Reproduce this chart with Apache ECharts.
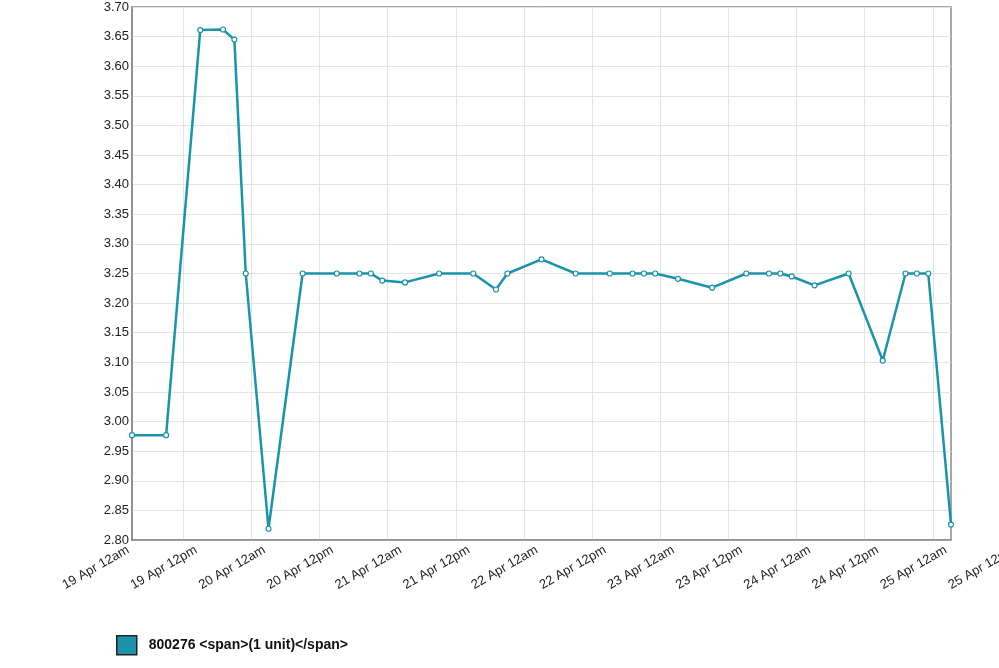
<!DOCTYPE html>
<html>
<head>
    <meta charset="utf-8">
    <title>800276</title>
    <script src="https://cdn.jsdelivr.net/npm/echarts@6/dist/echarts.min.js"></script>
    <style>
        html, body { margin: 0; padding: 0; background: #fff; }
        #chart1 { width: 999px; height: 668px; }
    </style>
</head>
<body>
<div id="chart1"></div>
<script type="text/javascript">
    // readings, UTC
    var times = [
        '2024-04-19T03:00', '2024-04-19T09:00', '2024-04-19T15:00', '2024-04-19T19:00', '2024-04-19T21:00', '2024-04-19T23:00',
        '2024-04-20T03:00', '2024-04-20T09:00', '2024-04-20T15:00', '2024-04-20T19:00', '2024-04-20T21:00', '2024-04-20T23:00',
        '2024-04-21T03:00', '2024-04-21T09:00', '2024-04-21T15:00', '2024-04-21T19:00', '2024-04-21T21:00',
        '2024-04-22T03:00', '2024-04-22T09:00', '2024-04-22T15:00', '2024-04-22T19:00', '2024-04-22T21:00', '2024-04-22T23:00',
        '2024-04-23T03:00', '2024-04-23T09:00', '2024-04-23T15:00', '2024-04-23T19:00', '2024-04-23T21:00', '2024-04-23T23:00',
        '2024-04-24T03:00', '2024-04-24T09:00', '2024-04-24T15:00', '2024-04-24T19:00', '2024-04-24T21:00', '2024-04-24T23:00',
        '2024-04-25T03:00'
    ];
    var values = [
        2.977, 2.977, 3.661, 3.662, 3.645, 3.250,
        2.819, 3.250, 3.250, 3.250, 3.250, 3.238,
        3.235, 3.250, 3.250, 3.223, 3.250,
        3.274, 3.250, 3.250, 3.250, 3.250, 3.250,
        3.241, 3.226, 3.250, 3.250, 3.250, 3.245,
        3.230, 3.250, 3.103, 3.250, 3.250, 3.250,
        2.826
    ];
    var seriesName = '800276 <span>(1 unit)</span>';
    var plotStart = '2024-04-19T03:00';
    var plotEnd = '2024-04-25T03:00';
    var tickStart = '2024-04-19T00:00';
    var tickEnd = '2024-04-25T12:00';

    var teal = '#1a93ab';
    var HOUR = 3600 * 1000;
    function ms(s) { return Date.parse(s + ':00Z'); }
    function tickLabel(v) {
        var d = new Date(v);
        return d.getUTCDate() + ' Apr ' + (d.getUTCHours() === 0 ? '12am' : '12pm');
    }

    var points = times.map(function (t, i) { return [ms(t), values[i]]; });

    var myChart1 = echarts.init(document.getElementById('chart1'));
    myChart1.setOption({
        animation: false,
        textStyle: { fontFamily: 'Liberation Sans, Arial, sans-serif' },
        grid: [
            { left: 132, right: 48, top: 7, bottom: 128, outerBoundsMode: 'none', show: true, borderColor: '#8a8a8a', borderWidth: 1.5, backgroundColor: 'transparent' },
            { left: 115, right: -2, top: 7, bottom: 128, outerBoundsMode: 'none' },
            { left: 128, right: -15, top: 7, bottom: 128, outerBoundsMode: 'none' }
        ],
        legend: {
            left: 116, top: 635, padding: 0,
            itemWidth: 20, itemHeight: 19,
            icon: 'rect',
            data: [{ name: seriesName, itemStyle: { color: teal, borderColor: '#222', borderWidth: 1.5 } }],
            textStyle: { fontSize: 14, fontWeight: 'bold', color: '#111', padding: [0, 0, 0, 7] }
        },
        xAxis: [
            {
                gridIndex: 0, type: 'value',
                min: ms(plotStart), max: ms(plotEnd),
                axisLine: { show: true, lineStyle: { color: '#8a8a8a', width: 1.5 } },
                axisTick: { show: false }, axisLabel: { show: false }, splitLine: { show: false }
            },
            {
                // grid lines every 12 hours
                gridIndex: 1, type: 'value',
                min: ms(tickStart), max: ms(tickEnd), interval: 12 * HOUR,
                axisLine: { show: false }, axisTick: { show: false }, axisLabel: { show: false },
                splitLine: { show: true, showMinLine: false, showMaxLine: false, lineStyle: { color: '#e4e4e4', width: 1 } }
            },
            {
                // labels sit a little right of their grid line, as in the original
                gridIndex: 2, type: 'value',
                min: ms(tickStart), max: ms(tickEnd), interval: 12 * HOUR,
                axisLine: { show: false }, axisTick: { show: false }, splitLine: { show: false },
                axisLabel: {
                    rotate: 30, margin: 9, fontSize: 13, color: '#222',
                    showMinLabel: true, showMaxLabel: true, hideOverlap: false,
                    formatter: tickLabel
                }
            }
        ],
        yAxis: [
            {
                gridIndex: 0, type: 'value',
                min: 2.8, max: 3.7, interval: 0.05,
                axisLine: { show: true, lineStyle: { color: '#8a8a8a', width: 1.5 } },
                axisTick: { show: false },
                axisLabel: { fontSize: 13, color: '#222', margin: 3, formatter: function (v) { return v.toFixed(2); } },
                splitLine: { show: true, lineStyle: { color: '#e4e4e4', width: 1 } }
            },
            { gridIndex: 1, type: 'value', show: false, splitLine: { show: false } },
            { gridIndex: 2, type: 'value', show: false, splitLine: { show: false } }
        ],
        series: [{
            name: seriesName,
            type: 'line',
            xAxisIndex: 0, yAxisIndex: 0,
            data: points,
            clip: false,
            symbol: 'circle',
            symbolSize: 5,
            color: teal,
            lineStyle: { color: teal, width: 2.5 },
            itemStyle: { color: '#fff', borderColor: teal, borderWidth: 1.2 },
            z: 5
        }]
    });
</script>
</body>
</html>
